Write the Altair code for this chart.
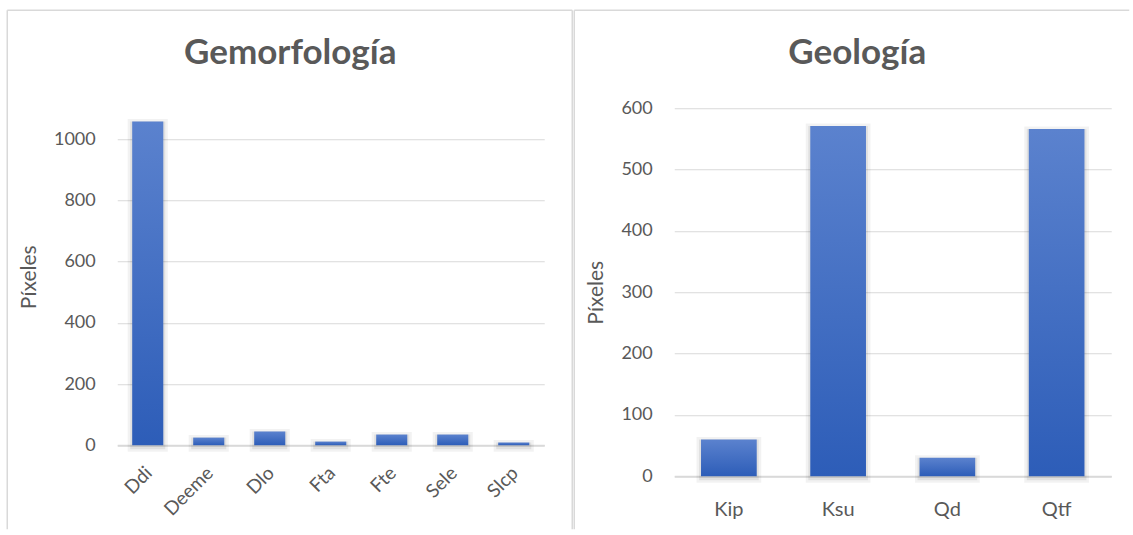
import altair as alt
import pandas as pd

# Pixel counts per map unit
geomorf_units = ["Ddi", "Deeme", "Dlo", "Fta", "Fte", "Sele", "Slcp"]
geomorf_pixels = [1058, 25, 45, 12, 35, 35, 9]

geolog_units = ["Kip", "Ksu", "Qd", "Qtf"]
geolog_pixels = [60, 571, 30, 566]

geomorf_ticks = [0, 200, 400, 600, 800, 1000]
geolog_ticks = [0, 100, 200, 300, 400, 500, 600]

geomorf_title = "Gemorfología"
geolog_title = "Geología"
y_title = "Píxeles"

TEXT = "#595959"
GRID = "#D9D9D9"
FONT = "Lato"

bar_fill = alt.Gradient(
    gradient="linear",
    stops=[alt.GradientStop(color="#5B82CE", offset=0),
           alt.GradientStop(color="#2D5DB8", offset=1)],
    x1=0, x2=0, y1=0, y2=1,
)

blank = alt.Data(values=[{}])
no_frame = alt.ViewBackground(stroke="transparent", strokeWidth=0)


def border(x, x2, y, y2):
    return alt.Chart(blank).mark_rule(color=GRID, strokeWidth=1.5).encode(
        x=alt.value(x), x2=alt.value(x2), y=alt.value(y), y2=alt.value(y2)
    )


def heading(text, x, y):
    return alt.Chart(blank).mark_text(
        text=text, font=FONT, fontSize=35, fontWeight="bold", color=TEXT,
        align="center", baseline="alphabetic",
    ).encode(x=alt.value(x), y=alt.value(y))


def panel(units, pixels, ticks, ymax, label_angle, label_pad, label_size, label_shift):
    df = pd.DataFrame({"unidad": units, "pixeles": pixels})
    x = alt.X(
        "unidad:N", sort=units, title=None,
        scale=alt.Scale(paddingInner=0.49, paddingOuter=0.245),
        axis=alt.Axis(labelAngle=label_angle, labelPadding=label_pad,
                      labelOffset=label_shift,
                      labelFontSize=label_size, labelColor=TEXT, labelFont=FONT,
                      ticks=False, domainColor=GRID, domainWidth=2, grid=False),
    )
    y = alt.Y(
        "pixeles:Q", title=y_title,
        scale=alt.Scale(domain=[0, ymax], nice=False, zero=True),
        axis=alt.Axis(values=ticks, format="d", domain=False, ticks=False,
                      gridColor=GRID, gridWidth=1.2,
                      labelFontSize=18, labelColor=TEXT, labelFont=FONT, labelPadding=22,
                      titleFontSize=21, titleFontWeight="normal", titleColor=TEXT,
                      titleFont=FONT, titlePadding=14),
    )
    base = alt.Chart(df).encode(x=x, y=y)
    halo_wide = base.mark_bar(fillOpacity=0, stroke="#000", strokeOpacity=0.05,
                              strokeWidth=9, yOffset=2)
    halo_near = base.mark_bar(fillOpacity=0, stroke="#000", strokeOpacity=0.07,
                              strokeWidth=4, yOffset=2)
    bars = base.mark_bar(color=bar_fill)
    return halo_wide, halo_near, bars


# left panel: the axis runs a little past the tallest bar, gridlines stop at 1000
lw, lh = 427, 337
left = alt.layer(
    *panel(geomorf_units, geomorf_pixels, geomorf_ticks, 1101, -45, 18, 19, -5),
    heading(geomorf_title, 173, -44),
    border(-110, 455, -98, -98),
    border(-110, -110, -98, 421),
    border(455, 455, -98, 421),
).properties(width=lw, height=lh, view=no_frame)

rw, rh = 437, 368
right = alt.layer(
    *panel(geolog_units, geolog_pixels, geolog_ticks, 600, 0, 23, 20, 0),
    heading(geolog_title, 183, -44),
    border(-100, 455, -98, -98),
    border(-100, -100, -98, 421),
).properties(width=rw, height=rh, view=no_frame)

chart = alt.hconcat(left, right, spacing=0).properties(
    padding={"left": 6.25, "top": 9.25, "right": 0, "bottom": 0},
    background="white",
).configure_view(stroke="transparent", strokeWidth=0).configure(font=FONT)

chart.save("out.html", embed_options={"renderer": "svg", "actions": False})
